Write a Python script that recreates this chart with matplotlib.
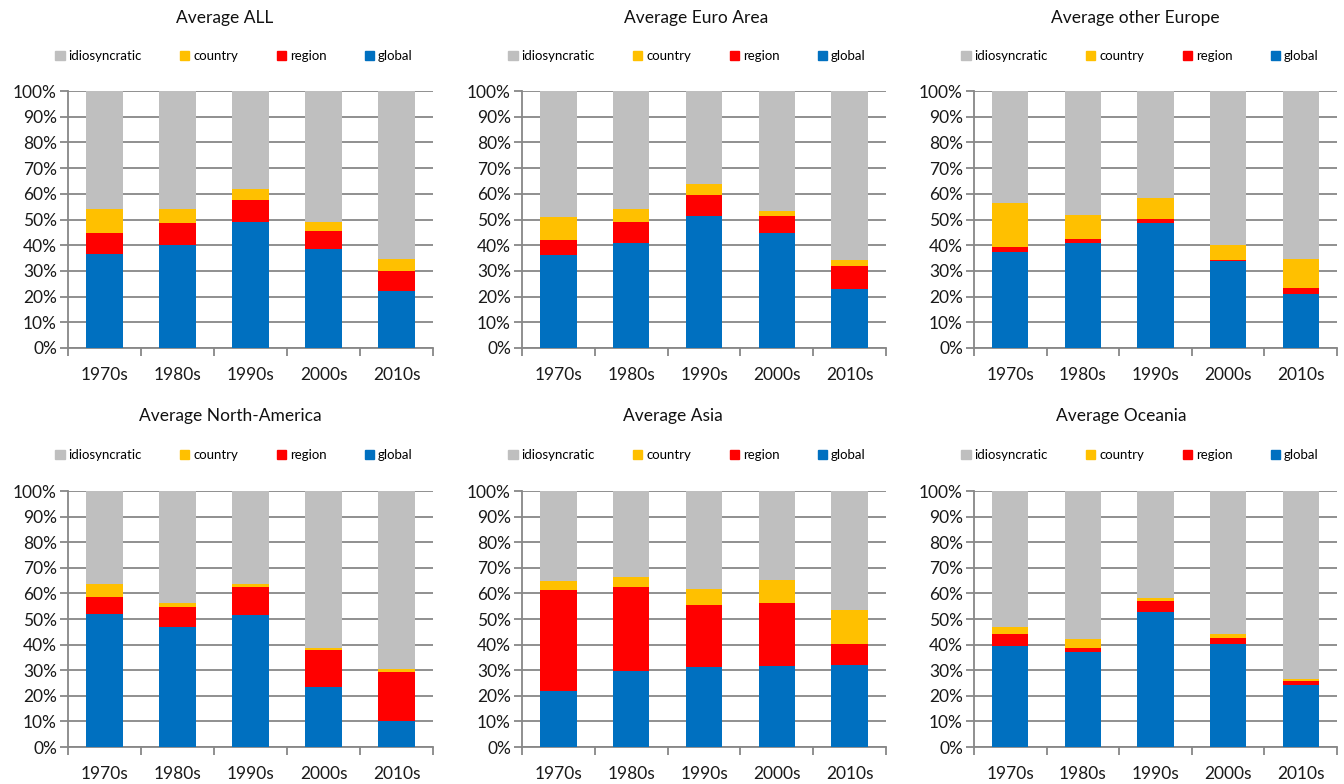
import numpy as np
import matplotlib
matplotlib.use("Agg")
import matplotlib.pyplot as plt
from matplotlib.patches import Patch

plt.rcParams['font.family'] = ['Lato', 'DejaVu Sans']

decades = ["1970s", "1980s", "1990s", "2000s", "2010s"]
titles = ["Average ALL", "Average Euro Area", "Average other Europe",
          "Average North-America", "Average Asia", "Average Oceania"]

# shares in % per decade
global_all = [36.5, 39.9, 49.2, 38.7, 22.3]
region_all = [8.2, 8.7, 8.2, 7.0, 7.5]
country_all = [9.3, 5.4, 4.4, 3.5, 4.9]
idio_all = [46.0, 46.0, 38.2, 50.8, 65.3]

global_euro = [36.0, 40.8, 51.4, 44.7, 22.9]
region_euro = [6.0, 8.4, 8.2, 6.6, 9.2]
country_euro = [8.8, 4.8, 4.4, 2.2, 2.2]
idio_euro = [49.2, 46.0, 36.0, 46.5, 65.7]

global_oeur = [37.2, 40.8, 48.6, 33.7, 21.1]
region_oeur = [2.0, 1.8, 1.7, 0.6, 2.1]
country_oeur = [17.1, 9.2, 8.2, 5.9, 11.5]
idio_oeur = [43.7, 48.2, 41.5, 59.8, 65.3]

global_nam = [52.1, 46.7, 51.5, 23.4, 10.1]
region_nam = [6.5, 8.0, 11.0, 14.3, 19.3]
country_nam = [5.0, 1.6, 1.1, 1.1, 1.0]
idio_nam = [36.4, 43.7, 36.4, 61.2, 69.6]

global_asia = [21.8, 29.5, 31.1, 31.7, 32.2]
region_asia = [39.6, 33.0, 24.2, 24.6, 8.1]
country_asia = [3.4, 3.8, 6.6, 9.1, 13.4]
idio_asia = [35.2, 33.7, 38.1, 34.6, 46.3]

global_oce = [39.4, 37.2, 52.7, 40.4, 24.1]
region_oce = [4.8, 1.6, 4.4, 2.3, 1.5]
country_oce = [2.5, 3.2, 1.2, 1.6, 0.9]
idio_oce = [53.3, 58.0, 41.7, 55.7, 73.5]

panels = [
    (global_all, region_all, country_all, idio_all),
    (global_euro, region_euro, country_euro, idio_euro),
    (global_oeur, region_oeur, country_oeur, idio_oeur),
    (global_nam, region_nam, country_nam, idio_nam),
    (global_asia, region_asia, country_asia, idio_asia),
    (global_oce, region_oce, country_oce, idio_oce),
]

c_global = '#0070C0'
c_region = '#FF0000'
c_country = '#FFC000'
c_idio = '#BFBFBF'
grid_c = '#878787'

W, H = 1344, 784
fig = plt.figure(figsize=(W / 100, H / 100), dpi=100)

# pixel boxes (left, right, top, bottom) of plot areas
ax_left = [68, 522, 974]
ax_right = [433, 886, 1337]
row_top = [91, 491]
row_bot = [348, 747]
title_x = [[225, 696, 1135], [230, 673, 1121]]
title_y = [18, 416]
leg_x = [[234, 687, 1140], [234, 687, 1140]]
leg_y = [56, 455]

x = np.arange(len(decades))

for i, (g, r, c, idio) in enumerate(panels):
    row, col = divmod(i, 3)
    l, rr = ax_left[col], ax_right[col]
    t, b = row_top[row], row_bot[row]
    ax = fig.add_axes([l / W, 1 - b / H, (rr - l) / W, (b - t) / H])

    g = np.array(g); r = np.array(r); c = np.array(c); idio = np.array(idio)
    bw = 0.5
    ax.bar(x, g, bw, color=c_global, zorder=3)
    ax.bar(x, r, bw, bottom=g, color=c_region, zorder=3)
    ax.bar(x, c, bw, bottom=g + r, color=c_country, zorder=3)
    ax.bar(x, idio, bw, bottom=g + r + c, color=c_idio, zorder=3)

    ax.set_xlim(-0.5, len(decades) - 0.5)
    ax.set_ylim(0, 100)
    ax.set_yticks(np.arange(0, 101, 10))
    ax.set_yticklabels([f"{v}%" for v in range(0, 101, 10)], fontsize=12.5, color='#1a1a1a')
    ax.yaxis.grid(True, color=grid_c, linewidth=1.3, zorder=0)
    ax.set_axisbelow(True)

    # category labels at centres, tick marks at boundaries (Excel style)
    ax.set_xticks(x)
    ax.set_xticklabels(decades, fontsize=12.5, color='#1a1a1a')
    ax.tick_params(axis='x', length=0, pad=14)
    ax.set_xticks(np.arange(-0.5, len(decades), 1), minor=True)
    ax.tick_params(axis='x', which='minor', length=6, color=grid_c, width=1.3)
    ax.tick_params(axis='y', length=6, color=grid_c, width=1.3, pad=2)

    for s in ['top', 'right']:
        ax.spines[s].set_visible(False)
    for s in ['left', 'bottom']:
        ax.spines[s].set_color(grid_c)
        ax.spines[s].set_linewidth(1.3)

    fig.text(title_x[row][col] / W, 1 - title_y[row] / H, titles[i],
             ha='center', va='center', fontsize=12.5, color='#111111')

    handles = [Patch(color=c_idio, label='idiosyncratic'),
               Patch(color=c_country, label='country'),
               Patch(color=c_region, label='region'),
               Patch(color=c_global, label='global')]
    fig.legend(handles=handles, loc='center', ncol=4, frameon=False,
               bbox_to_anchor=(leg_x[row][col] / W, 1 - leg_y[row] / H),
               fontsize=9.5, handlelength=0.7, handleheight=0.7,
               handletextpad=0.3, columnspacing=2.9)

fig.savefig("out.png", dpi=100)
